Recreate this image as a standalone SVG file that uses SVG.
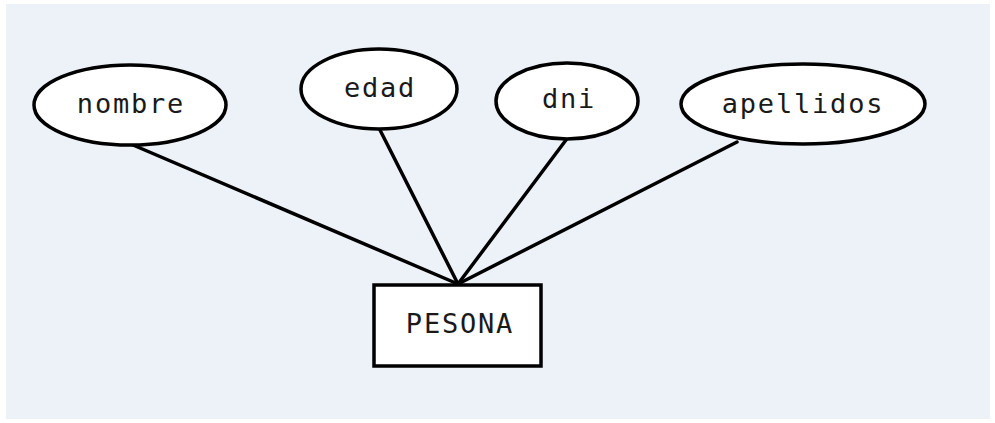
<svg xmlns="http://www.w3.org/2000/svg" width="995" height="423" viewBox="0 0 995 423">
  <style>
    .attr { fill: #ffffff; stroke: #000000; stroke-width: 3.5; }
    .entity { fill: #ffffff; stroke: #000000; stroke-width: 3.5; }
    .link { stroke: #000000; stroke-width: 3.5; fill: none; stroke-linecap: round; }
    .label { font-family: "DejaVu Sans Mono", "Liberation Mono", monospace; font-size: 27px; letter-spacing: 1.8px; fill: #1a1a1a; text-anchor: middle; }
  </style>
  <rect x="0" y="0" width="995" height="423" fill="#ffffff"/>
  <rect x="6" y="4" width="984" height="415" fill="#edf2f9"/>

  <!-- attribute links to the entity -->
  <g id="connectors">
    <line class="link" x1="133" y1="145" x2="458" y2="284"/>
    <line class="link" x1="380" y1="130" x2="458" y2="284"/>
    <line class="link" x1="566" y1="140" x2="458" y2="284"/>
    <line class="link" x1="737" y1="142" x2="458" y2="284"/>
  </g>

  <g id="nombre">
    <ellipse class="attr" cx="130" cy="105" rx="96" ry="40"/>
    <text class="label" x="131" y="113">nombre</text>
  </g>
  <g id="edad">
    <ellipse class="attr" cx="379" cy="89" rx="78" ry="40"/>
    <text class="label" x="380" y="97">edad</text>
  </g>
  <g id="dni">
    <ellipse class="attr" cx="567" cy="101" rx="71" ry="38"/>
    <text class="label" x="569" y="108">dni</text>
  </g>
  <g id="apellidos">
    <ellipse class="attr" cx="803" cy="104" rx="122" ry="40"/>
    <text class="label" x="803" y="113">apellidos</text>
  </g>
  <g id="pesona">
    <rect class="entity" x="374" y="285" width="167" height="81"/>
    <text class="label" x="460" y="333">PESONA</text>
  </g>
</svg>
